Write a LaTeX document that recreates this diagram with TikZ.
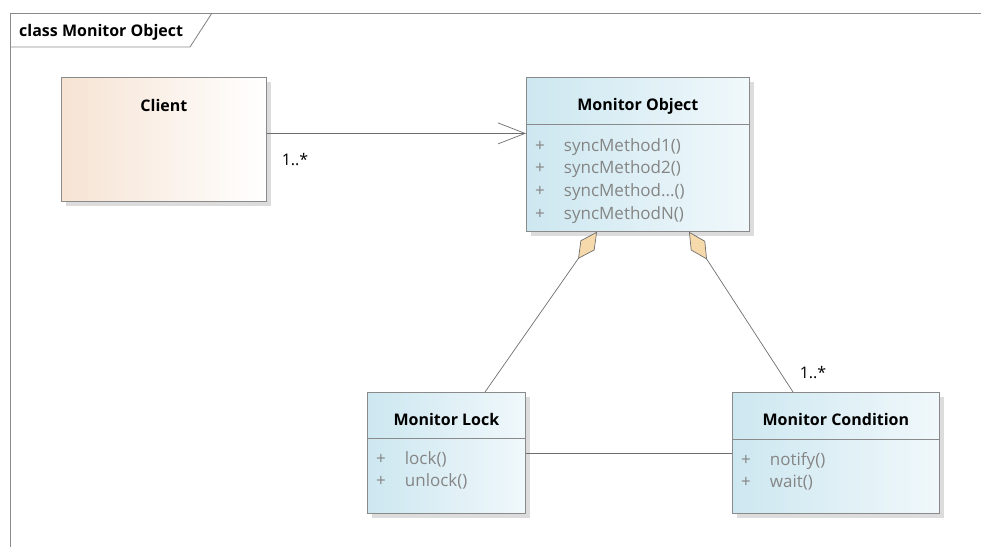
\documentclass[tikz,border=0pt]{standalone}
\usepackage{fontspec}
\setmainfont{Open Sans}
\usepackage{xcolor}
\usepackage{tikz}
\usetikzlibrary{arrows.meta,shadows}

\definecolor{umlborder}{HTML}{8A8A8A}
\definecolor{umlline}{HTML}{6E6E6E}
\definecolor{umltext}{HTML}{858585}
\definecolor{umlshadow}{HTML}{DCDCDC}
\definecolor{clientleft}{HTML}{F6E3D3}
\definecolor{clientright}{HTML}{FFFFFF}
\definecolor{monleft}{HTML}{CDE7F0}
\definecolor{monright}{HTML}{F0F8FB}
\definecolor{aggfill}{HTML}{F6DAAB}

\begin{document}
\begin{tikzpicture}[x=1pt,y=-1pt,
    classbox/.style={draw=umlborder, line width=0.8pt, inner sep=0pt, anchor=north west,
      drop shadow={fill=umlshadow, opacity=1, shadow xshift=5pt, shadow yshift=-5pt}},
    clientbox/.style={classbox, left color=clientleft, right color=clientright},
    monbox/.style={classbox, left color=monleft, right color=monright},
    classname/.style={anchor=base, inner sep=0pt, font=\fontsize{16}{19}\selectfont\bfseries},
    members/.style={anchor=base west, inner sep=0pt, text=umltext, font=\fontsize{17}{22.8}\selectfont},
    mult/.style={inner sep=0pt, font=\fontsize{16}{19}\selectfont},
    sepline/.style={draw=umlborder, line width=0.8pt},
    link/.style={draw=umlline, line width=0.7pt},
    agg/.style={link, {Diamond[length=33pt, width=17pt, fill=aggfill]}-},
  ]
    \useasboundingbox (0,0) rectangle (981,547);
    % Frame
    \draw[draw=umlborder, line width=0.9pt] (10,547) -- (10,13) -- (981,13);
    \draw[draw=umlborder, line width=0.9pt] (10,47) -- (190,47) -- (212,13);
    \node[anchor=base west, inner sep=0pt, font=\fontsize{16}{19}\selectfont\bfseries] (frametitle) at (19,36) {class Monitor Object};
    % Classes
    \node[clientbox, minimum width=205pt, minimum height=124pt] (client) at (61,77) {};
    \node[monbox, minimum width=223pt, minimum height=154pt] (obj) at (526,77) {};
    \node[monbox, minimum width=158pt, minimum height=121pt] (lock) at (367,392) {};
    \node[monbox, minimum width=207pt, minimum height=121pt] (cond) at (732,392) {};
    % Names
    \node[classname] (clientname) at ([yshift=-34pt]client.north) {Client};
    \node[classname] (objname) at ([yshift=-33pt]obj.north) {Monitor Object};
    \node[classname] (lockname) at ([yshift=-33pt]lock.north) {Monitor Lock};
    \node[classname] (condname) at ([yshift=-33pt]cond.north) {Monitor Condition};
    % Compartments
    \draw[sepline] ([yshift=-47pt]obj.north west) -- ([yshift=-47pt]obj.north east);
    \draw[sepline] ([yshift=-46pt]lock.north west) -- ([yshift=-46pt]lock.north east);
    \draw[sepline] ([yshift=-47pt]cond.north west) -- ([yshift=-47pt]cond.north east);
    % Operations
    \node[members] (objops) at ([xshift=9pt,yshift=-74pt]obj.north west)
      {\begin{tabular}[t]{@{}l@{\hspace{19pt}}l@{}}
        + & syncMethod1()\\ + & syncMethod2()\\ + & syncMethod...()\\ + & syncMethodN()
      \end{tabular}};
    \node[members] (lockops) at ([xshift=9pt,yshift=-72pt]lock.north west)
      {\begin{tabular}[t]{@{}l@{\hspace{19pt}}l@{}}
        + & lock()\\ + & unlock()
      \end{tabular}};
    \node[members] (condops) at ([xshift=9pt,yshift=-73pt]cond.north west)
      {\begin{tabular}[t]{@{}l@{\hspace{19pt}}l@{}}
        + & notify()\\ + & wait()
      \end{tabular}};
    % Connectors
    \draw[link, -{Straight Barb[length=27pt, width=21pt]}] ([yshift=6pt]client.east) -- ([yshift=6pt]client.east -| obj.west);
    \draw[agg] ([xshift=71pt]obj.south west) -- ([xshift=118pt]lock.north west);
    \draw[agg] ([xshift=163pt]obj.south west) -- ([xshift=61pt]cond.north west);
    \draw[link] (lock.east) -- (cond.west);
    % Multiplicities
    \node[mult] (clientmult) at (295,160) {1..*};
    \node[mult] (condmult) at (813,373) {1..*};
\end{tikzpicture}
\end{document}
